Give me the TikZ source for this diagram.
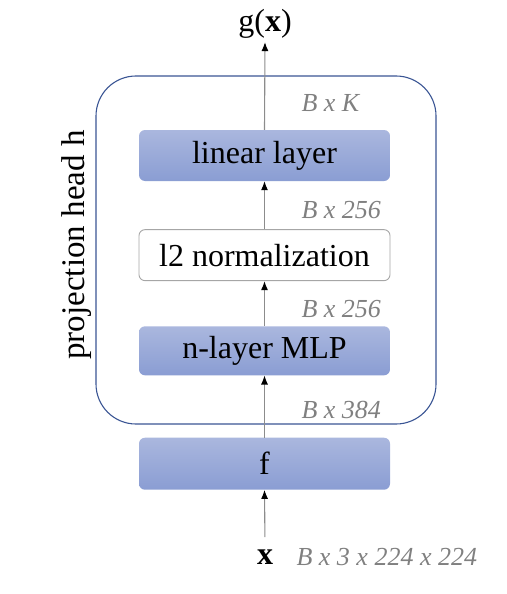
\documentclass[tikz,border=0pt]{standalone}
\usepackage{fontspec}
\setmainfont{Liberation Serif}
\usetikzlibrary{positioning, arrows.meta}

\definecolor{boxtop}{HTML}{AAB7DE}
\definecolor{boxbot}{HTML}{8A9DD3}
\definecolor{headblue}{HTML}{3A5594}
\definecolor{dimgray}{HTML}{808080}
\definecolor{flowgray}{HTML}{8C8C8C}

\tikzset{
	box/.style={rectangle, rounded corners=6pt, minimum width=251pt, minimum height=51pt, font=\fontsize{32}{38}\selectfont},
	layer/.style={box, top color=boxtop, bottom color=boxbot},
	normbox/.style={box, fill=white, draw=gray!70, line width=0.9pt},
	flow/.style={draw=flowgray, line width=1.1pt, -{Latex[black, length=9pt, width=7pt]}},
	dim/.style={anchor=west, text=dimgray, font=\fontsize{26}{31}\selectfont\itshape},
}

\begin{document}
\begin{tikzpicture}[x=1pt, y=1pt]
	\useasboundingbox (0,0) rectangle (506,-594);
	
	\node[draw=headblue, line width=1.1pt, rounded corners=40pt, minimum width=340pt, minimum height=348pt] (head) at (266,-250) {};
	\node[rotate=90, font=\fontsize{33}{40}\selectfont] (headlbl) at (77,-245) {projection head h};
	
	\node[layer] (lin) at (264.5,-155.5) {linear layer};
	\node[normbox, below=48pt of lin] (norm) {l2 normalization};
	\node[layer, minimum height=49pt, below=45pt of norm] (mlp) {n-layer MLP};
	\node[layer, minimum height=52pt, below=62pt of mlp] (f) {f};
	
	\node[font=\fontsize{32}{38}\selectfont] (xin) at (265,-557) {\textbf{x}};
	\node[font=\fontsize{32}{38}\selectfont] (gx) at (265,-24) {g(\textbf{x})};
	
	\draw[flow, shorten <=9pt] (xin.north) -- (f.south);
	\draw[flow] (f.north) -- (mlp.south);
	\draw[flow] (mlp.north) -- (norm.south);
	\draw[flow] (norm.north) -- (lin.south);
	\draw[flow] (lin.north) -- (gx.south);
	
	\node[dim] (dimK) at (298,-103) {B x K};
	\node[dim] (dimlin) at (298,-210) {B x 256};
	\node[dim] (dimnorm) at (298,-309) {B x 256};
	\node[dim] (dimf) at (298,-410) {B x 384};
	\node[dim] (dimx) at (293,-557) {B x 3 x 224 x 224};
	
\end{tikzpicture}
\end{document}
